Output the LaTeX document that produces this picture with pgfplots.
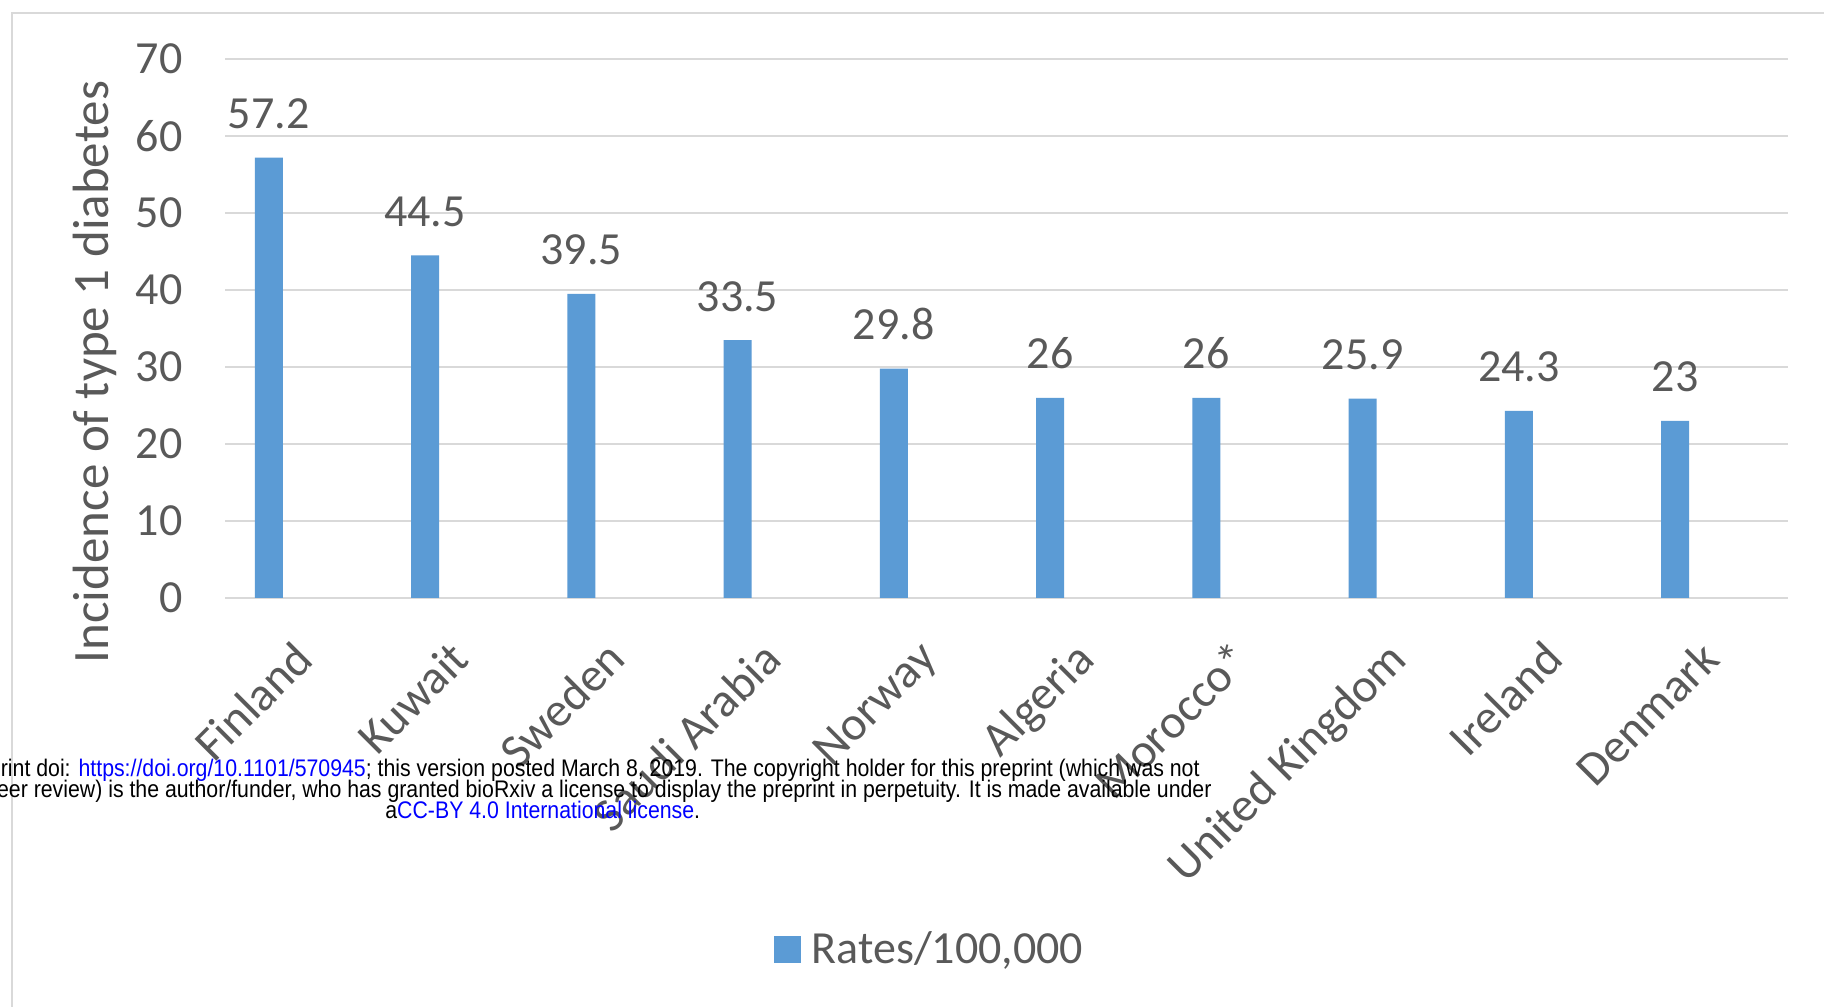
\documentclass[border=0pt]{standalone}
\usepackage{fontspec}
\setmainfont{Carlito}
\newfontfamily\wmfont{Liberation Sans}
\usepackage{graphicx}
\usepackage{pgfplots}
\pgfplotsset{compat=1.18}
\definecolor{barblue}{HTML}{5B9BD5}
\definecolor{txtgray}{HTML}{595959}
\definecolor{gridgray}{HTML}{D9D9D9}
\definecolor{wmblue}{RGB}{0,0,255}
\pgfplotsset{sqlegend/.style={legend image code/.code={\fill[##1] (0pt,-6.7pt) rectangle (13.4pt,6.7pt);}}}
\pgfplotstableread{
x y lab
0 57.2 57.2
1 44.5 44.5
2 39.5 39.5
3 33.5 33.5
4 29.8 29.8
5 26 26
6 26 26
7 25.9 25.9
8 24.3 24.3
9 23 23
}\rates
\begin{document}
\begin{tikzpicture}
\clip (0,0) rectangle (912pt,503pt);
\fill[white] (0,0) rectangle (912pt,503pt);
\draw[gridgray, line width=1pt] (6pt,-5pt) -- (6pt,496.5pt) -- (920pt,496.5pt);
\begin{axis}[
  scale only axis, width=781.5pt, height=269.5pt,
  at={(112.5pt,204pt)}, anchor=south west,
  xmin=-0.28, xmax=9.723, ymin=0, ymax=70,
  ytick={0,10,20,30,40,50,60,70},
  xtick={0.147,1.147,2.147,3.147,4.147,5.147,6.147,7.147,8.147,9.147},
  xticklabels={Finland,Kuwait,Sweden,Saudi Arabia,Norway,Algeria,Morocco*,United Kingdom,Ireland,Denmark},
  axis line style={draw=none},
  major tick length=0pt,
  ymajorgrids, grid style={gridgray, line width=1pt},
  /pgf/number format/assume math mode=true,
  yticklabel style={font=\fontsize{23}{27}\selectfont, text=txtgray, anchor=east, inner sep=0pt},
  yticklabel shift=21pt,
  xticklabel style={font=\fontsize{24}{28}\selectfont, text=txtgray, rotate=45, anchor=north east, inner sep=0pt},
  xticklabel shift=20pt,
  ylabel={Incidence of type 1 diabetes},
  ylabel style={at={(axis description cs:-0.083,0.419)}, anchor=center, font=\fontsize{25.5}{30}\selectfont, text=txtgray},
  every node near coord/.append style={font=\fontsize{23}{27}\selectfont, text=txtgray, anchor=base, yshift=14.5pt, inner sep=0pt},
  legend style={at={(axis description cs:0.3513,-0.652)}, anchor=west, draw=none, fill=none, inner sep=0pt, font=\fontsize{23}{27}\selectfont, text=txtgray, legend cell align=left, /tikz/every odd column/.append style={column sep=3.2pt}},
]
\addplot[ybar, bar width=14pt, fill=barblue, draw=none,
  nodes near coords, point meta=explicit symbolic, sqlegend]
  table[x=x, y=y, meta=lab] {\rates};
\addlegendentry{Rates/100,000}
\end{axis}
\node[anchor=base east, inner sep=0pt, font=\wmfont\fontsize{12}{10.5}\selectfont] at (600pt,114.5pt)
  {\scalebox{0.887}[1]{bioRxiv preprint doi: \textcolor{wmblue}{https://doi.org/10.1101/570945}; this version posted March 8, 2019. The copyright holder for this preprint (which was not}};
\node[anchor=base east, inner sep=0pt, font=\wmfont\fontsize{12}{10.5}\selectfont] at (606pt,104pt)
  {\scalebox{0.887}[1]{certified by peer review) is the author/funder, who has granted bioRxiv a license to display the preprint in perpetuity. It is made available under}};
\node[anchor=base west, inner sep=0pt, font=\wmfont\fontsize{12}{10.5}\selectfont] at (192.5pt,93.5pt)
  {\scalebox{0.887}[1]{a\textcolor{wmblue}{CC-BY 4.0 International license}.}};
\end{tikzpicture}
\end{document}
